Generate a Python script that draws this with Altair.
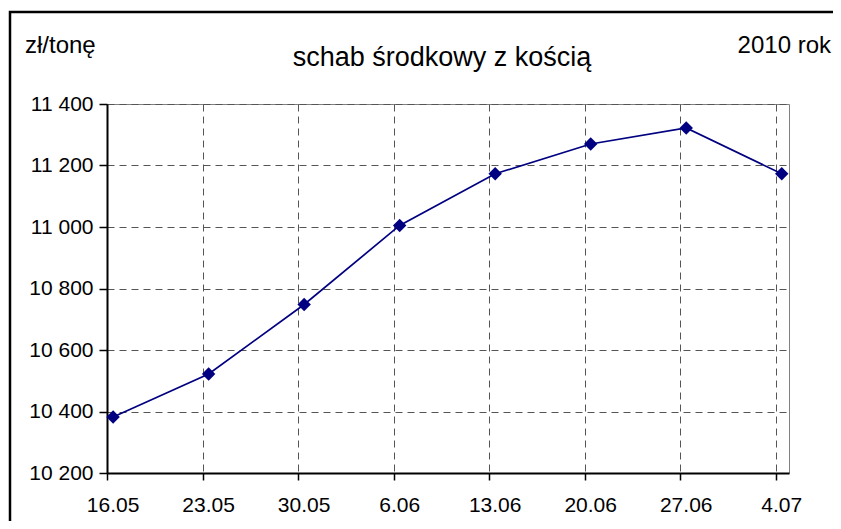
import altair as alt
import pandas as pd

# ---- data ----
weeks = ["16.05", "23.05", "30.05", "6.06", "13.06", "20.06", "27.06", "4.07"]
prices = [10382, 10522, 10748, 11005, 11173, 11270, 11322, 11173]
y_ticks = [10200, 10400, 10600, 10800, 11000, 11200, 11400]
title_text = "schab środkowy z kością"
unit_text = "zł/tonę"
year_text = "2010 rok"

df = pd.DataFrame({"week": weeks, "price": prices, "idx": list(range(len(weeks)))})

FONT = "Liberation Sans"
W, H = 682, 369
NAVY = "#000080"
GRID = "#555555"

x_scale = alt.Scale(domain=[0, 7.14], nice=False, zero=False)
y_scale = alt.Scale(domain=[10200, 11400], nice=False, zero=False)

base = alt.Chart(df).transform_calculate(xp="datum.idx + 0.064")

# grid + axes layer (uses tick positions 0..7)
axes = alt.Chart(df).mark_point(opacity=0).encode(
    x=alt.X("idx:Q", scale=x_scale,
            axis=alt.Axis(values=list(range(len(weeks))), labels=False, title=None,
                          grid=True, gridDash=[7, 5], gridColor=GRID, gridWidth=1,
                          domainColor="black", domainWidth=2, tickColor="black",
                          tickSize=7, tickWidth=1.5)),
    y=alt.Y("price:Q", scale=y_scale,
            axis=alt.Axis(values=y_ticks, title=None, grid=True, gridDash=[7, 5],
                          gridColor=GRID, gridWidth=1, domainColor="black",
                          domainWidth=2, tickColor="black", tickSize=8, tickWidth=1.5,
                          labelFontSize=21, labelFont=FONT, labelColor="black",
                          labelPadding=6,
                          labelExpr="replace(format(datum.value, ','), ',', ' ')")),
)

line = base.mark_line(color=NAVY, strokeWidth=1.7).encode(
    x=alt.X("xp:Q", scale=x_scale),
    y=alt.Y("price:Q", scale=y_scale),
)

pts = base.mark_point(shape="diamond", filled=True, size=180, color=NAVY, opacity=1).encode(
    x=alt.X("xp:Q", scale=x_scale),
    y=alt.Y("price:Q", scale=y_scale),
)

xlabels = base.mark_text(font=FONT, fontSize=21, color="black", baseline="middle",
                         align="center").encode(
    x=alt.X("xp:Q", scale=x_scale),
    y=alt.value(H + 33),
    text="week:N",
)

one = pd.DataFrame({"k": [0]})
t_title = alt.Chart(one).mark_text(font=FONT, fontSize=27, color="black",
                                   align="center", baseline="alphabetic").encode(
    x=alt.value(335), y=alt.value(-38), text=alt.value(title_text))
t_unit = alt.Chart(one).mark_text(font=FONT, fontSize=24, color="black",
                                  align="left", baseline="alphabetic").encode(
    x=alt.value(-82), y=alt.value(-51), text=alt.value(unit_text))
t_year = alt.Chart(one).mark_text(font=FONT, fontSize=24, color="black",
                                  align="right", baseline="alphabetic").encode(
    x=alt.value(724), y=alt.value(-51), text=alt.value(year_text))

frame = alt.Chart(one).mark_rect(fill=None, stroke="black", strokeWidth=2.5).encode(
    x=alt.value(-97), y=alt.value(-92), x2=alt.value(800), y2=alt.value(500))

chart = alt.layer(axes, line, pts, xlabels, t_title, t_unit, t_year, frame).properties(
    width=W, height=H,
    autosize=alt.AutoSizeParams(type="none"),
    padding={"left": 99, "top": 96, "right": 44, "bottom": 48},
    background="white",
).configure_view(stroke="#808080", strokeWidth=1)

chart.save("out.html", embed_options={"renderer": "svg", "actions": False})
